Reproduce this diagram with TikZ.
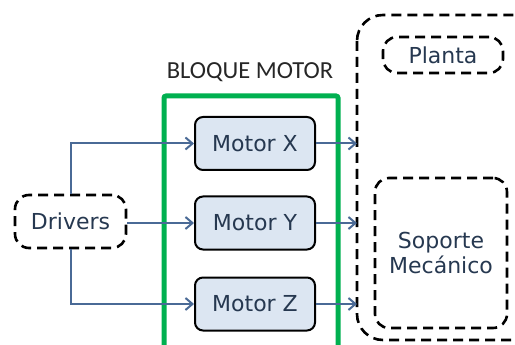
\documentclass[tikz,border=0pt]{standalone}
\usepackage{fontspec}
\setmainfont{DejaVu Sans}
\newfontfamily\titlefont{Carlito}
\usetikzlibrary{arrows.meta}
\definecolor{boxfill}{HTML}{DCE6F2}
\definecolor{txt}{HTML}{263850}
\definecolor{arr}{HTML}{4A6A96}
\definecolor{grn}{HTML}{00B050}
\begin{document}
\begin{tikzpicture}[x=1pt,y=-1pt,
  motorbox/.style={draw=black, line width=2pt, fill=boxfill, rounded corners=8pt,
    minimum width=120pt, minimum height=53pt, inner sep=0pt,
    font=\fontsize{22}{26}\selectfont, text=txt},
  dbox/.style={draw=black, line width=2.6pt, dash pattern=on 10pt off 6pt,
    rounded corners=14pt, inner sep=0pt, text=txt, font=\fontsize{22}{25}\selectfont, align=center},
  conn/.style={draw=arr, line width=2pt, -{Straight Barb[length=7pt,width=12pt,line width=2pt]}},
]
\useasboundingbox (0,0) rectangle (515,345);
\begin{scope}
\clip (0,0) rectangle (515,345);
\draw[line width=2.6pt, dash pattern=on 10pt off 6pt, rounded corners=26pt] (357,15) rectangle (540,340);
\end{scope}
\node[text=black!85, font=\titlefont\fontsize{24.5}{28}\selectfont] (title) at (250,72) {BLOQUE MOTOR};
\draw[grn, line width=5pt, rounded corners=2pt] (164,355) -- (164,96) -- (338,96) -- (338,355);
\node[motorbox] (mx) at (255,143.5) {Motor X};
\node[motorbox] (my) at (255,223) {Motor Y};
\node[motorbox] (mz) at (255,304) {Motor Z};
\node[dbox, minimum width=111pt, minimum height=53pt] (drv) at (70.5,221.5) {Drivers};
\node[dbox, minimum width=120pt, minimum height=36pt] (planta) at (443,55) {Planta};
\node[dbox, minimum width=132pt, minimum height=150pt] (sop) at (441,253) {Soporte\\Mecánico};
\coordinate (ox) at (357,143.5);
\coordinate (oy) at (357,223);
\coordinate (oz) at (357,304);
\draw[conn] (drv.east |- my) -- (my.west);
\draw[conn] (drv.north) |- (mx.west);
\draw[conn] (drv.south) |- (mz.west);
\draw[conn] (mx.east) -- (ox);
\draw[conn] (my.east) -- (oy);
\draw[conn] (mz.east) -- (oz);
\end{tikzpicture}
\end{document}
